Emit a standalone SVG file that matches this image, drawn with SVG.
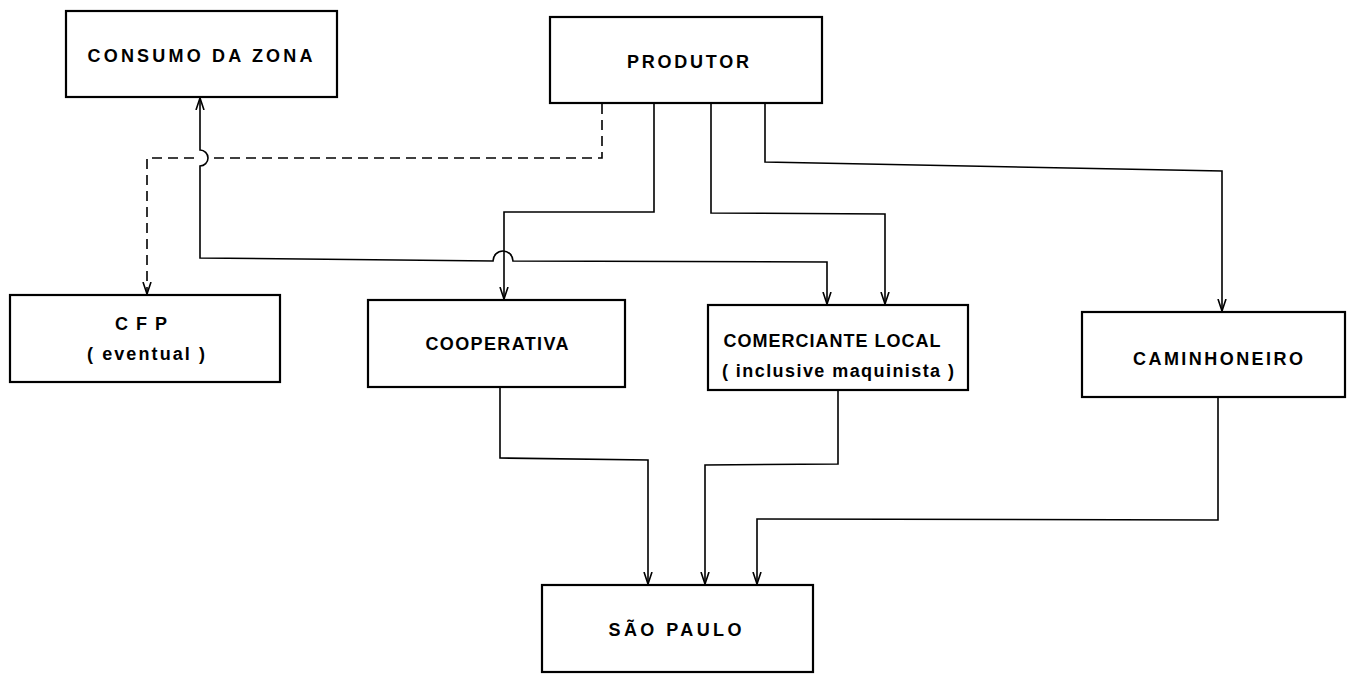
<svg xmlns="http://www.w3.org/2000/svg" width="1347" height="674" viewBox="0 0 1347 674">
<style>
.box{fill:#fff;stroke:#000;stroke-width:2.2}
.t{font-family:"Liberation Sans",Arial,sans-serif;font-weight:bold;font-size:18px;fill:#000;text-anchor:middle}
.c{fill:none;stroke:#000;stroke-width:1.6}
.d{stroke-dasharray:10,6}
</style>
<defs>
<marker id="a" viewBox="0 0 12 10" refX="12" refY="5" markerWidth="12" markerHeight="10" markerUnits="userSpaceOnUse" orient="auto-start-reverse">
<path d="M0,1 L12,5 L0,9" fill="none" stroke="#000" stroke-width="1.6"/>
</marker>
</defs>
<g id="connectors">
<path class="c d" d="M602,104 L602,158 L208,158 M194,158 L147,158 L147,294" marker-end="url(#a)"/>
<path class="c" d="M827,304 L827,262 L513,261 A10,10 0 0 0 493,261 L200,258 L200,166 A8,8 0 0 0 200,150 L200,98" marker-end="url(#a)" marker-start="url(#a)"/>
<path class="c" d="M654,104 L654,212 L504,212 L504,299" marker-end="url(#a)"/>
<path class="c" d="M711,104 L711,213 L885,214 L885,304" marker-end="url(#a)"/>
<path class="c" d="M765,104 L765,162 L1222,171 L1222,311" marker-end="url(#a)"/>
<path class="c" d="M500,388 L500,458 L648,460 L648,584" marker-end="url(#a)"/>
<path class="c" d="M838,391 L838,464 L705,465 L705,584" marker-end="url(#a)"/>
<path class="c" d="M1218,398 L1218,520 L757,519 L757,584" marker-end="url(#a)"/>
</g>
<g id="consumo"><rect class="box" x="66" y="11" width="271" height="86"/><text class="t" x="200" y="62" textLength="225" lengthAdjust="spacing">CONSUMO  DA ZONA</text></g>
<g id="produtor"><rect class="box" x="550" y="17" width="272" height="86"/><text class="t" x="688" y="68" textLength="122" lengthAdjust="spacing">PRODUTOR</text></g>
<g id="cfp"><rect class="box" x="10" y="295" width="270" height="87"/><text class="t" x="141" y="330" textLength="52" lengthAdjust="spacing">C F P</text><text class="t" x="146" y="360" textLength="118" lengthAdjust="spacing">( eventual )</text></g>
<g id="cooperativa"><rect class="box" x="368" y="300" width="257" height="87"/><text class="t" x="497" y="350" textLength="143" lengthAdjust="spacing">COOPERATIVA</text></g>
<g id="comerciante"><rect class="box" x="708" y="305" width="260" height="85"/><text class="t" x="832" y="347" textLength="217" lengthAdjust="spacing">COMERCIANTE  LOCAL</text><text class="t" x="838" y="377" textLength="232" lengthAdjust="spacing">( inclusive  maquinista )</text></g>
<g id="caminhoneiro"><rect class="box" x="1082" y="312" width="263" height="85"/><text class="t" x="1218" y="365" textLength="170" lengthAdjust="spacing">CAMINHONEIRO</text></g>
<g id="saopaulo"><rect class="box" x="542" y="585" width="271" height="87"/><text class="t" x="675" y="636" textLength="133" lengthAdjust="spacing">SÃO  PAULO</text></g>
</svg>
